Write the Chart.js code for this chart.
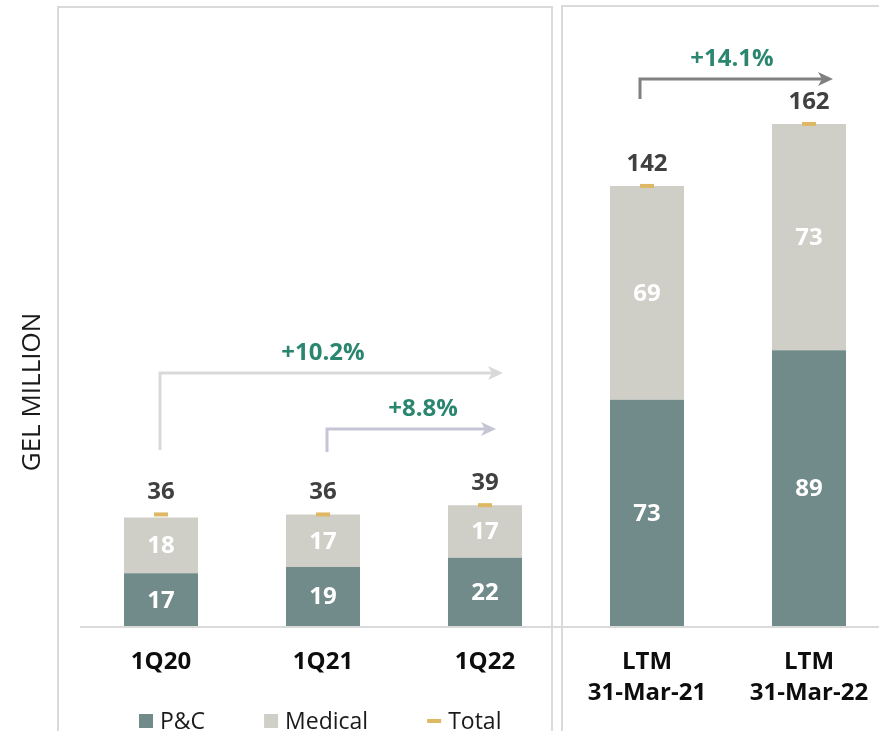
<!DOCTYPE html>
<html>
<head>
<meta charset="utf-8">
<script src="https://cdn.jsdelivr.net/npm/chart.js@4.4.0/dist/chart.umd.min.js"></script>
<style>
    html, body { margin: 0; padding: 0; background: #fff; overflow: hidden; }
    #wrap { width: 879px; height: 731px; overflow: hidden; position: relative; }
    canvas { display: block; }
</style>
</head>
<body>
<div id="wrap"><canvas id="barChart" width="900" height="731"></canvas></div>
<script>
'use strict';

// chart data
var categories = [['1Q20'], ['1Q21'], ['1Q22'], ['LTM', '31-Mar-21'], ['LTM', '31-Mar-22']];
var pcValues = [17, 19, 22, 73, 89];
var medicalValues = [18, 17, 17, 69, 73];
var totalValues = [36, 36, 39, 142, 162];
var growthLabels = ['+10.2%', '+8.8%', '+14.1%'];

var pcColor = '#718b8a';
var medicalColor = '#cfcfc7';
var totalColor = '#dfb865';
var frameColor = '#dadada';
var fontFamily = '"Open Sans", "DejaVu Sans", sans-serif';

// growth arrows: from category, to category, y levels in px, colour
var growthArrows = [
    { label: growthLabels[0], from: 0, to: 2, dxFrom: -1, dxTo: 18, yStart: 450, yLine: 373, textX: 323, color: '#d9d9d9' },
    { label: growthLabels[1], from: 1, to: 2, dxFrom: 4, dxTo: 11, yStart: 452, yLine: 429, textX: 423, color: '#c5c5d6' },
    { label: growthLabels[2], from: 3, to: 4, dxFrom: -7, dxTo: 24, yStart: 99, yLine: 79, textX: 732, color: '#808080' }
];

var decorPlugin = {
    id: 'decor',
    beforeDraw: function (chart) {
        var ctx = chart.ctx;
        var area = chart.chartArea;
        ctx.save();
        ctx.strokeStyle = frameColor;
        ctx.lineWidth = 2;
        // panel frames
        ctx.beginPath();
        ctx.moveTo(58, 760); ctx.lineTo(58, 7); ctx.lineTo(552, 7); ctx.lineTo(552, 760);
        ctx.moveTo(562, 760); ctx.lineTo(562, 6); ctx.lineTo(900, 6);
        ctx.stroke();
        // baseline
        ctx.beginPath();
        ctx.moveTo(area.left, area.bottom + 1);
        ctx.lineTo(900, area.bottom + 1);
        ctx.stroke();

        // y title
        ctx.fillStyle = '#1a1a1a';
        ctx.font = '26px ' + fontFamily;
        ctx.textAlign = 'center';
        ctx.textBaseline = 'middle';
        ctx.translate(33, 392);
        ctx.rotate(-Math.PI / 2);
        ctx.fillText('GEL MILLION', 0, 0);
        ctx.restore();
    },
    afterDatasetsDraw: function (chart) {
        var ctx = chart.ctx;
        var xScale = chart.scales.x;
        ctx.save();
        ctx.textAlign = 'center';
        ctx.textBaseline = 'middle';
        ctx.font = 'bold 24px ' + fontFamily;

        // segment labels
        [0, 1].forEach(function (di) {
            var meta = chart.getDatasetMeta(di);
            meta.data.forEach(function (bar, i) {
                ctx.fillStyle = '#ffffff';
                ctx.fillText(chart.data.datasets[di].data[i], bar.x, (bar.y + bar.base) / 2 + 1);
            });
        });

        // totals
        chart.getDatasetMeta(2).data.forEach(function (pt, i) {
            ctx.fillStyle = '#404040';
            ctx.fillText(totalValues[i], pt.x, pt.y - 22);
        });

        // growth arrows
        growthArrows.forEach(function (a) {
            var x0 = xScale.getPixelForValue(a.from) + a.dxFrom;
            var tip = xScale.getPixelForValue(a.to) + a.dxTo;
            ctx.strokeStyle = a.color;
            ctx.fillStyle = a.color;
            ctx.lineWidth = 3;
            ctx.beginPath();
            ctx.moveTo(x0, a.yStart);
            ctx.lineTo(x0, a.yLine);
            ctx.lineTo(tip - 10, a.yLine);
            ctx.stroke();
            ctx.beginPath();
            ctx.moveTo(tip, a.yLine);
            ctx.lineTo(tip - 15, a.yLine - 7);
            ctx.lineTo(tip - 11, a.yLine);
            ctx.lineTo(tip - 15, a.yLine + 7);
            ctx.closePath();
            ctx.fill();

            ctx.fillStyle = '#2b8670';
            ctx.font = 'bold 24px ' + fontFamily;
            ctx.fillText(a.label, a.textX, a.yLine - 20);
        });
        ctx.restore();
    },
    afterDraw: function (chart) {
        // legend
        var ctx = chart.ctx;
        var items = [
            { text: chart.data.datasets[0].label, color: pcColor, kind: 'box' },
            { text: chart.data.datasets[1].label, color: medicalColor, kind: 'box' },
            { text: chart.data.datasets[2].label, color: totalColor, kind: 'dash' }
        ];
        var x = 139;
        var y = 721;
        ctx.save();
        ctx.font = '23px ' + fontFamily;
        ctx.textBaseline = 'middle';
        ctx.textAlign = 'left';
        items.forEach(function (item) {
            ctx.fillStyle = item.color;
            if (item.kind === 'box') {
                ctx.fillRect(x, y - 7, 14, 14);
            } else {
                ctx.fillRect(x, y - 2, 14, 4);
            }
            ctx.fillStyle = '#1a1a1a';
            ctx.fillText(item.text, x + 21, y + 1);
            x += 21 + ctx.measureText(item.text).width + 59;
        });
        ctx.restore();
    }
};

var ctx = document.getElementById('barChart').getContext('2d');
var barChart = new Chart(ctx, {
    type: 'bar',
    data: {
        labels: categories,
        datasets: [
            {
                label: 'P&C',
                data: pcValues,
                backgroundColor: pcColor,
                stack: 'main',
                order: 2,
                categoryPercentage: 0.457,
                barPercentage: 1
            },
            {
                label: 'Medical',
                data: medicalValues,
                backgroundColor: medicalColor,
                stack: 'main',
                order: 2,
                categoryPercentage: 0.457,
                barPercentage: 1
            },
            {
                type: 'line',
                label: 'Total',
                data: totalValues,
                stack: 'total',
                order: 1,
                showLine: false,
                pointStyle: 'line',
                pointRadius: 7,
                pointHoverRadius: 7,
                pointBorderWidth: 4,
                borderColor: totalColor,
                backgroundColor: totalColor
            }
        ]
    },
    options: {
        responsive: false,
        animation: false,
        layout: {
            autoPadding: false,
            padding: { left: 80, right: 10, top: 0, bottom: 0 }
        },
        plugins: {
            legend: { display: false },
            tooltip: { enabled: false }
        },
        scales: {
            x: {
                stacked: true,
                grid: { display: false, drawTicks: false },
                border: { display: false },
                ticks: {
                    color: '#0d0d0d',
                    padding: 21,
                    maxRotation: 0,
                    autoSkip: false,
                    font: { family: fontFamily, size: 24, weight: 'bold', lineHeight: 1.28 }
                },
                afterFit: function (scale) {
                    scale.height = 105;
                }
            },
            y: {
                display: false,
                stacked: true,
                min: 0,
                max: 202
            }
        }
    },
    plugins: [decorPlugin]
});
</script>
</body>
</html>
